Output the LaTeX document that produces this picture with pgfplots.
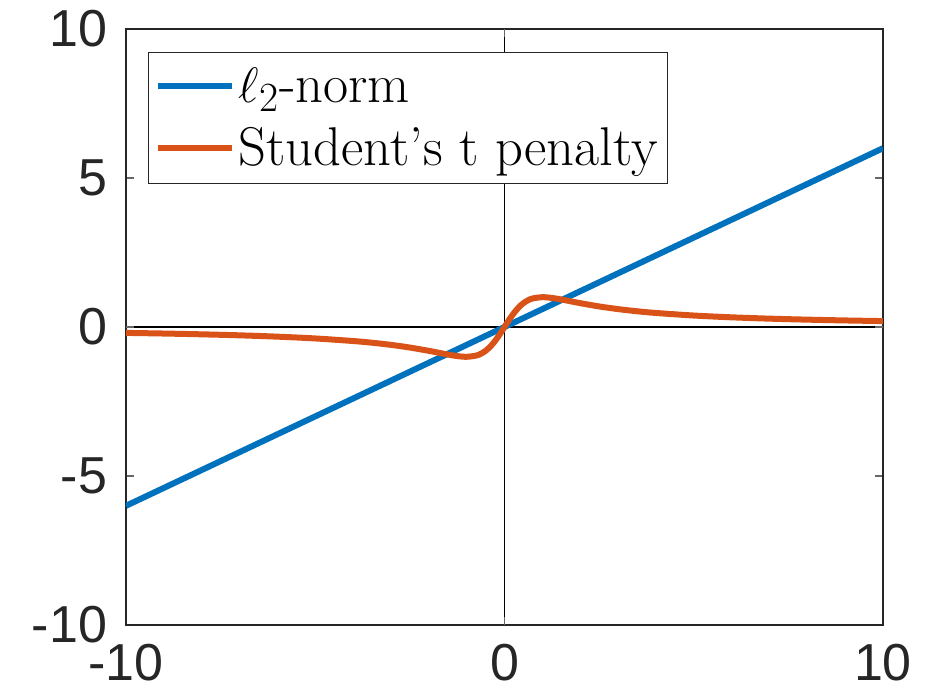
\documentclass[border=0pt]{standalone}
\usepackage{fontspec}
\usepackage{pgfplots}
\pgfplotsset{compat=1.18}
\newfontfamily\ticksf{Liberation Sans}
\definecolor{mblue}{rgb}{0,0.447,0.741}
\definecolor{morange}{rgb}{0.85,0.325,0.098}
\definecolor{axgray}{rgb}{0.15,0.15,0.15}
\begin{document}
\begin{tikzpicture}
\begin{axis}[
  scale only axis,
  width=378.5pt, height=298pt,
  xmin=-10, xmax=10, ymin=-10, ymax=10,
  xtick={-10,0,10}, xticklabels={-10,0,10},
  ytick={-10,-5,0,5,10}, yticklabels={-10,-5,0,5,10},
  tick align=inside, major tick length=4pt,
  axis line style={axgray, line width=0.7pt},
  every tick/.style={axgray!70, line width=0.7pt},
  tick label style={font=\ticksf\fontsize{26}{26}\selectfont, text=black!85},
  x tick label style={yshift=-6pt},
  y tick label style={xshift=-6pt},
  extra x ticks={0}, extra x tick labels={},
  extra y ticks={0}, extra y tick labels={},
  extra tick style={grid=major, major grid style={black, line width=0.6pt}},
  legend style={at={(0,1)}, anchor=north west, xshift=11pt, yshift=-11.5pt,
    draw=axgray, line width=0.6pt, fill=white,
    font=\fontsize{27.3}{30}\selectfont, inner xsep=3pt, inner ysep=5.5pt,
    row sep=7pt},
  legend cell align=left,
  legend image code/.code={\draw[#1, line width=3pt] (0pt,0pt) -- (37pt,0pt);},
]
\coordinate (SW) at (rel axis cs:0,0);
\coordinate (NE) at (rel axis cs:1,1);
\addplot[mblue, line width=3pt] coordinates {(-10,-6) (10,6)};
\addlegendentry{$\ell_2$-norm}
\addplot[morange, line width=3pt, smooth] coordinates {
(-10,-0.1980) (-9,-0.2195) (-8,-0.2462) (-7,-0.2800) (-6,-0.3243) (-5,-0.3846)
(-4,-0.4706) (-3.5,-0.5283) (-3,-0.6000) (-2.5,-0.6897) (-2,-0.8000)
(-1.75,-0.8615) (-1.5,-0.9231) (-1.25,-0.9756) (-1,-1.0000) (-0.75,-0.9600)
(-0.625,-0.8989) (-0.5,-0.8000) (-0.375,-0.6575) (-0.25,-0.4706) (-0.125,-0.2462)
(0,0)
(0.125,0.2462) (0.25,0.4706) (0.375,0.6575) (0.5,0.8000) (0.625,0.8989)
(0.75,0.9600) (1,1.0000) (1.25,0.9756) (1.5,0.9231) (1.75,0.8615) (2,0.8000)
(2.5,0.6897) (3,0.6000) (3.5,0.5283) (4,0.4706) (5,0.3846) (6,0.3243)
(7,0.2800) (8,0.2462) (9,0.2195) (10,0.1980)};
\addlegendentry{Student's t penalty}
\end{axis}
\pgfresetboundingbox
\path ([shift={(-63pt,-37pt)}]SW) rectangle ([shift={(22pt,14.5pt)}]NE);
\end{tikzpicture}
\end{document}
